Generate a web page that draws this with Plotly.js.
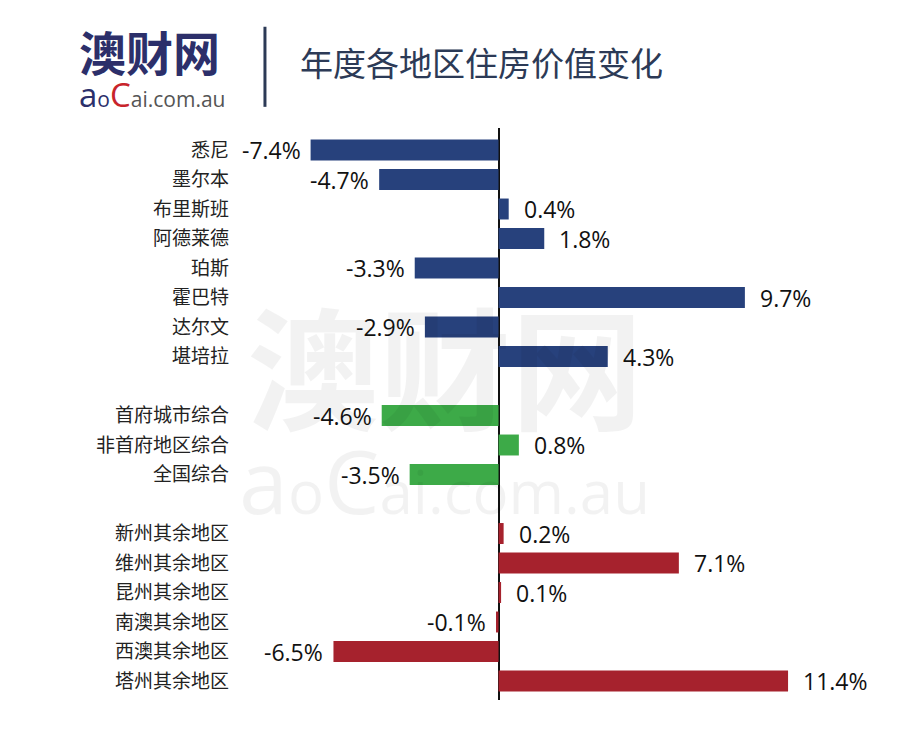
<!DOCTYPE html>
<html>
<head>
<meta charset="utf-8">
<script src="https://cdn.plot.ly/plotly-3.0.1.min.js"></script>
<style>html,body{margin:0;padding:0;background:#fff;}#chart{width:907px;height:736px;}</style>
</head>
<body>
<div id="chart"></div>
<script>
// ---- data ----
const capitalCities = ["悉尼", "墨尔本", "布里斯班", "阿德莱德", "珀斯", "霍巴特", "达尔文", "堪培拉"];
const capitalValues = [-7.4, -4.7, 0.4, 1.8, -3.3, 9.7, -2.9, 4.3];
const summaryCats = ["首府城市综合", "非首府地区综合", "全国综合"];
const summaryValues = [-4.6, 0.8, -3.5];
const regionalCats = ["新州其余地区", "维州其余地区", "昆州其余地区", "南澳其余地区", "西澳其余地区", "塔州其余地区"];
const regionalValues = [0.2, 7.1, 0.1, -0.1, -6.5, 11.4];
const chartTitle = "年度各地区住房价值变化";

const spacer1 = " ", spacer2 = "  ";
const allCats = [...capitalCities, spacer1, ...summaryCats, spacer2, ...regionalCats];

const colors = {blue: "#27417c", green: "#3daa48", red: "#a6222d"};
const barWidth = 0.71;

function barTrace(cats, vals, color) {
  return {
    type: "bar", orientation: "h", y: cats, x: vals,
    marker: {color: color, line: {width: 0}}, width: barWidth,
    hoverinfo: "skip", showlegend: false
  };
}

const traces = [
  barTrace(capitalCities, capitalValues, colors.blue),
  barTrace(summaryCats, summaryValues, colors.green),
  barTrace(regionalCats, regionalValues, colors.red)
];

const annotations = [];

// watermark (drawn first)
annotations.push({
  xref: "paper", yref: "paper", x: 0.32, y: 0.59, showarrow: false,
  text: "<b>澳财网</b>", font: {family: "Noto Sans CJK SC", size: 132, color: "rgba(0,0,0,0.05)"},
  xanchor: "center", yanchor: "middle"
});
annotations.push({
  xref: "paper", yref: "paper", x: 0.32, y: 0.385, showarrow: false,
  text: "<span style='font-size:88px'>a</span>o<span style='font-size:88px'>C</span>ai.com.au",
  font: {family: "Open Sans, sans-serif", size: 60, color: "rgba(0,0,0,0.05)"},
  xanchor: "center", yanchor: "middle"
});

const valueFont = {family: "Open Sans, Noto Sans, sans-serif", size: 23, color: "#111"};
function addLabels(cats, vals) {
  cats.forEach((c, i) => {
    const v = vals[i];
    annotations.push({
      x: v, y: c, xref: "x", yref: "y", showarrow: false,
      text: v.toFixed(1) + "%", font: valueFont,
      xanchor: v < 0 ? "right" : "left",
      xshift: v < 0 ? -8 : 13, yanchor: "middle"
    });
  });
}
addLabels(capitalCities, capitalValues);
addLabels(summaryCats, summaryValues);
addLabels(regionalCats, regionalValues);

// header
annotations.push({
  xref: "paper", yref: "paper", x: -0.254, y: 1.136, showarrow: false,
  text: "<b>澳财网</b>", font: {family: "Noto Sans CJK SC", size: 47, color: "#2c2f6a"},
  xanchor: "left", yanchor: "middle"
});
annotations.push({
  xref: "paper", yref: "paper", x: -0.254, y: 1.058, showarrow: false,
  text: "<span style='color:#2c2f6a;font-size:33px'>a</span><span style='color:#2c2f6a'>o</span><span style='color:#c8242b;font-size:33px'>C</span>ai.com.au",
  font: {family: "Open Sans, sans-serif", size: 21, color: "#555"},
  xanchor: "left", yanchor: "middle"
});
annotations.push({
  xref: "paper", yref: "paper", x: 0.09, y: 1.1154, showarrow: false,
  text: chartTitle, font: {family: "Noto Sans CJK SC", size: 33, color: "#2c3a56"},
  xanchor: "left", yanchor: "middle"
});

const layout = {
  width: 907, height: 736,
  margin: {l: 240, r: 27, t: 128, b: 36},
  paper_bgcolor: "#fff", plot_bgcolor: "rgba(0,0,0,0)",
  barmode: "overlay",
  xaxis: {
    range: [-10.18, 15.02], showgrid: false, showticklabels: false, ticks: "",
    zeroline: true, zerolinecolor: "#111", zerolinewidth: 2, showline: false, fixedrange: true
  },
  yaxis: {
    type: "category", categoryorder: "array", categoryarray: allCats,
    range: [18.644, -0.746], showgrid: false, zeroline: false, showline: false, ticks: "",
    ticklabelstandoff: 10,
    tickfont: {family: "Noto Sans CJK SC", size: 19, color: "#222"}, fixedrange: true
  },
  annotations: annotations,
  shapes: [{
    type: "line", xref: "paper", yref: "paper",
    x0: 0.039, x1: 0.039, y0: 1.037, y1: 1.177,
    line: {color: "#2c3a56", width: 3}
  }]
};

Plotly.newPlot("chart", traces, layout, {displayModeBar: false, staticPlot: true});
</script>
</body>
</html>
